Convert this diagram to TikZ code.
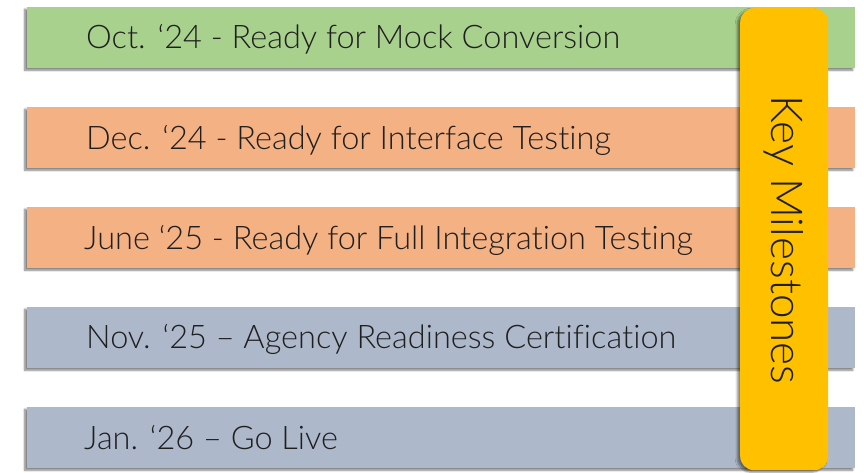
\documentclass[tikz,border=0pt]{standalone}
\usepackage{fontspec}
\setmainfont{Lato}[UprightFont=* Light, Ligatures={NoCommon}]
\usetikzlibrary{shadows.blur}
\definecolor{mgreen}{HTML}{A9D18E}
\definecolor{morange}{HTML}{F4B183}
\definecolor{mblue}{HTML}{ADB9CA}
\definecolor{mgold}{HTML}{FFC000}
\definecolor{mtext}{HTML}{1F1F1F}
\tikzset{
  bar/.style={fill=#1, draw=none, minimum width=828pt, minimum height=61pt, anchor=north west, inner sep=0pt,
    blur shadow={shadow xshift=-2.5pt, shadow yshift=-2pt, shadow blur steps=6, shadow opacity=50}},
  bartext/.style={anchor=west, text=mtext, font=\fontsize{32.5}{32.5}\selectfont, inner sep=0pt},
  keybox/.style={fill=mgold, draw=none, rounded corners=14pt, minimum width=88pt, minimum height=462pt, anchor=north west, inner sep=0pt,
    blur shadow={shadow xshift=-3pt, shadow yshift=-2pt, shadow blur steps=6, shadow opacity=45}},
}
\begin{document}
\begin{tikzpicture}[x=1pt,y=-1pt]
\useasboundingbox (0,0) rectangle (864,473);
\node[bar=mgreen] (b1) at (27,7) {};
\node[bar=morange] (b2) at (27,107) {};
\node[bar=morange] (b3) at (27,207) {};
\node[bar=mblue] (b4) at (27,307) {};
\node[bar=mblue] (b5) at (27,407) {};
\node[bartext] (t1) at (86,39) {Oct. ‘24 - Ready for Mock Conversion};
\node[bartext] (t2) at (86,140) {Dec. ‘24 - Ready for Interface Testing};
\node[bartext] (t3) at (84,240) {June ‘25 - Ready for Full Integration Testing};
\node[bartext] (t4) at (86,339) {Nov. ‘25 – Agency Readiness Certification};
\node[bartext] (t5) at (84,438) {Jan. ‘26 – Go Live};
\node[keybox] (k) at (740,8) {};
\node[rotate=-90, text=mtext, font=\fontsize{44}{44}\selectfont, inner sep=0pt] (kt) at (784,240) {Key Milestones};
\end{tikzpicture}
\end{document}
